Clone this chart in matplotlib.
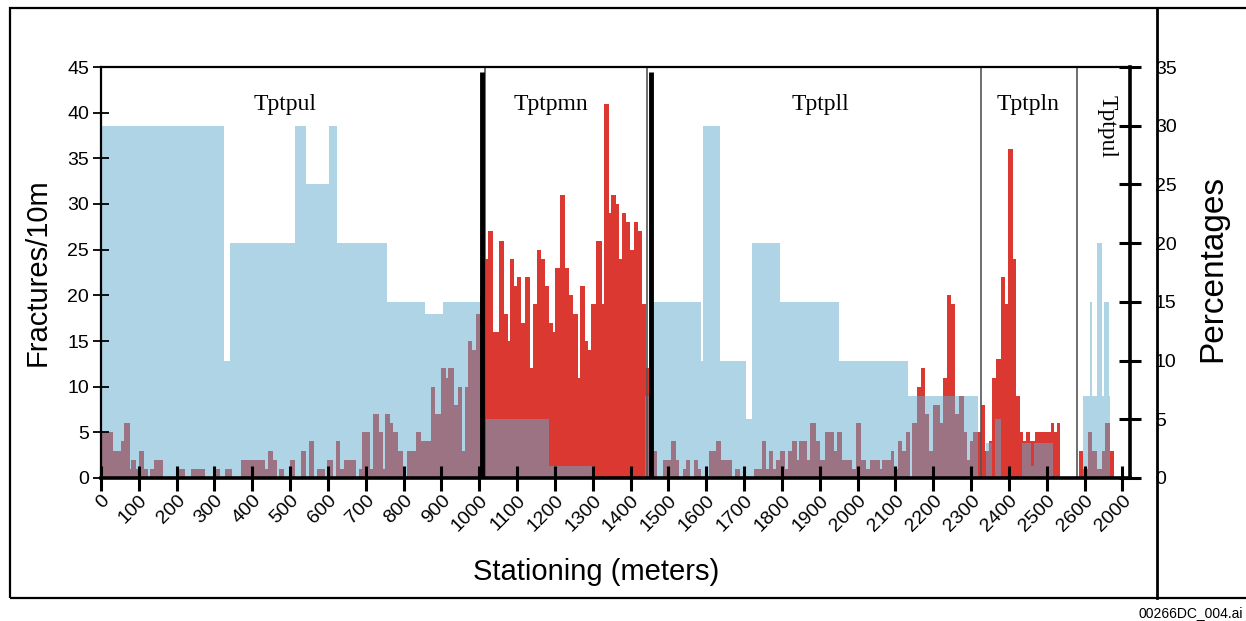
import numpy as np
import matplotlib
matplotlib.use("Agg")
import matplotlib.pyplot as plt
from matplotlib.lines import Line2D
from matplotlib.patches import Rectangle

# ---------------------------------------------------------------------------
# Fracture counts per interval (stationing in metres, counts per 10 m)
# ---------------------------------------------------------------------------
red_edges = [
    0, 32, 54, 62, 76, 80, 93, 100, 113, 123, 129, 139, 165, 204, 223, 239,
    274, 301, 314, 329, 345, 371, 433, 442, 455, 466, 471, 484, 499, 512, 528,
    543, 550, 563, 572, 593, 598, 612, 621, 632, 643, 674, 683, 691, 711, 720,
    734, 746, 752, 764, 772, 786, 799, 810, 832, 845, 872, 883, 900, 912, 918,
    933, 943, 955, 962, 971, 982, 990, 1001, 1011,
    1023, 1036, 1052, 1064, 1076, 1082, 1093, 1100, 1111, 1122, 1135, 1142,
    1152, 1164, 1173, 1184, 1195, 1201, 1212, 1226, 1237, 1248, 1261, 1267,
    1279, 1287, 1296, 1308, 1323, 1330, 1342, 1349, 1361, 1369, 1377, 1387,
    1398, 1408, 1420, 1430, 1440, 1451,
    1457, 1470, 1485, 1508, 1520, 1529, 1538, 1547, 1558, 1567, 1577, 1587,
    1607, 1626, 1640, 1668, 1675, 1689, 1726, 1746, 1758, 1765, 1777, 1785,
    1796, 1809, 1816, 1827, 1840, 1846, 1867, 1875, 1889, 1900, 1915, 1937,
    1945, 1960, 1986, 1997, 2010, 2021, 2034, 2059, 2065, 2087, 2096, 2107,
    2118, 2127, 2138, 2145, 2156, 2167, 2177, 2189, 2198, 2218, 2227, 2236,
    2246, 2257, 2268, 2280, 2290, 2297, 2306, 2326,
    2337, 2346, 2355, 2366, 2379, 2390, 2397, 2410, 2419, 2430, 2436, 2445,
    2456, 2470, 2510, 2520, 2526, 2536, 2584,
    2595, 2608, 2620, 2632, 2646, 2655, 2666, 2679, 2720,
]
red_counts = [
    5, 3, 4, 6, 1, 2, 1, 3, 1, 0, 1, 2, 0, 1, 0,
    1, 0, 1, 0, 1, 0, 2, 1, 3, 2, 0, 1, 0, 2, 0,
    3, 0, 4, 0, 1, 0, 2, 0, 4, 1, 2, 0, 1, 5, 1,
    7, 5, 1, 7, 6, 5, 3, 0, 3, 5, 4, 10, 7, 12, 11,
    12, 8, 10, 3, 10, 15, 14, 18, 20,
    24, 27, 16, 26, 18, 15, 24, 21, 22, 17, 22, 12,
    19, 25, 24, 21, 17, 16, 23, 31, 23, 20, 18, 11,
    21, 15, 14, 19, 26, 19, 41, 29, 31, 30, 24, 29,
    28, 25, 28, 27, 19, 12,
    3, 3, 0, 2, 4, 2, 0, 1, 2, 0, 2, 1,
    0, 3, 4, 2, 0, 1, 0, 1, 4, 1, 3, 1,
    2, 3, 1, 3, 4, 2, 4, 2, 6, 4, 2, 5,
    3, 5, 2, 1, 6, 2, 1, 2, 1, 2, 3, 1,
    4, 3, 5, 0, 6, 10, 12, 7, 3, 8, 6, 11,
    20, 19, 7, 9, 5, 2, 4, 5,
    8, 3, 4, 11, 13, 22, 19, 36, 24, 9, 5, 4,
    5, 4, 5, 6, 5, 6, 0,
    3, 1, 5, 3, 1, 3, 6, 3, 0,
]

# Percentage of the stationing interval (right-hand axis)
pct_edges = [
    0, 326, 340, 512, 541, 602, 624, 756, 857, 903, 1003, 1185, 1302, 1437,
    1452, 1585, 1592, 1635, 1706, 1720, 1795, 1952, 2133, 2317, 2339, 2355,
    2362, 2379, 2434, 2459, 2466, 2516, 2595, 2613, 2620, 2632, 2646, 2652,
    2664, 2668, 2720,
]
pct_values = [
    30, 10, 20, 30, 25, 30, 20, 15, 14, 15, 5, 1, 0,
    7, 15, 10, 30, 10, 5, 20, 15, 10, 7, 0, 3,
    0, 5, 0, 3, 1, 3, 0, 7, 15, 7, 20, 7,
    15, 7, 0,
]

# Lithostratigraphic units and contacts
unit_names = ["Tptpul", "Tptpmn", "Tptpll", "Tptpln"]
unit_label_x = [487, 1188, 1902, 2451]
upper_unit_name = "Tptpul"
upper_unit_x = 2660
heavy_contacts = [1007, 1455]
light_contacts = [1016, 1443, 2326, 2579]

x_ticks = list(range(0, 2800, 100))
x_tick_labels = [str(v) for v in range(0, 2700, 100)] + ["2000"]

LEFT_MAX = 45
RIGHT_MAX = 35

BLUE = "#aed4e6"
RED = "#dc3832"
MAUVE = "#9c7382"

# ---------------------------------------------------------------------------
red_edges = np.asarray(red_edges, float)
red_counts = np.asarray(red_counts, float)
pct_edges = np.asarray(pct_edges, float)
pct_values = np.asarray(pct_values, float)
pct_on_left = pct_values * LEFT_MAX / RIGHT_MAX

# overlap of the two step series on a merged grid
all_edges = np.union1d(red_edges, pct_edges)
mids = 0.5 * (all_edges[:-1] + all_edges[1:])
r_mid = red_counts[np.clip(np.searchsorted(red_edges, mids) - 1, 0, len(red_counts) - 1)]
b_mid = pct_on_left[np.clip(np.searchsorted(pct_edges, mids) - 1, 0, len(pct_on_left) - 1)]
overlap = np.minimum(r_mid, b_mid)

W, H = 1246, 621
fig = plt.figure(figsize=(W / 100, H / 100), dpi=100)
fig.patch.set_facecolor("white")

ax = fig.add_axes([101 / W, 1 - 478 / H, (1130 - 101) / W, (478 - 67) / H])
ax.set_xlim(0, 2720)
ax.set_ylim(0, LEFT_MAX)

ax.stairs(pct_on_left, pct_edges, fill=True, color=BLUE, lw=0, zorder=1.0)
ax.stairs(red_counts, red_edges, fill=True, color=RED, lw=0, zorder=1.1)
ax.stairs(overlap, all_edges, fill=True, color=MAUVE, lw=0, zorder=1.2)

for xc in light_contacts:
    ax.plot([xc, xc], [0, LEFT_MAX], color="#555555", lw=1.2, zorder=1.5,
            solid_capstyle="butt")
for xc in heavy_contacts:
    ax.plot([xc, xc], [0, 44.4], color="black", lw=3.5, zorder=1.6,
            solid_capstyle="butt")

serif = ["Liberation Serif", "DejaVu Serif"]
for name, xm in zip(unit_names, unit_label_x):
    ax.text(xm, 40.9, name, ha="center", va="center", fontsize=17,
            family=serif, zorder=6)
ax.text(upper_unit_x, 38.5, upper_unit_name, ha="center", va="center",
        fontsize=17, family=serif, rotation=-90, zorder=6)

sans = ["Liberation Sans", "DejaVu Sans"]
ax.set_yticks(range(0, 50, 5))
ax.set_yticklabels([str(v) for v in range(0, 50, 5)], family=sans, fontsize=14)
ax.set_xticks(x_ticks)
ax.set_xticklabels(x_tick_labels, family=sans, fontsize=14, rotation=45,
                   ha="right", va="top", rotation_mode="anchor")
ax.tick_params(axis="y", direction="inout", length=11, width=1.3, pad=3)
ax.tick_params(axis="x", direction="inout", length=18, width=2.2, pad=1)

for side, lw in [("left", 1.6), ("bottom", 2.6), ("top", 1.6)]:
    ax.spines[side].set_linewidth(lw)
ax.spines["right"].set_visible(False)

ax2 = ax.twinx()
ax2.set_ylim(0, RIGHT_MAX)
ax2.set_yticks(range(0, 40, 5))
ax2.set_yticklabels([str(v) for v in range(0, 40, 5)], family=sans, fontsize=14)
ax2.tick_params(axis="y", direction="inout", length=16, width=2.2, pad=10)
for side in ["left", "top", "bottom"]:
    ax2.spines[side].set_visible(False)
ax2.spines["right"].set_linewidth(2.6)

fig.text(38 / W, 1 - 272 / H, "Fractures/10m", rotation=90, ha="center",
         va="center", fontsize=21, family=sans)
fig.text(596 / W, 1 - 572 / H, "Stationing (meters)", ha="center",
         va="center", fontsize=21, family=sans)
fig.text(1213 / W, 1 - 268 / H, "Percentages", rotation=90, ha="center",
         va="center", fontsize=24, family=sans)
fig.text(1243 / W, 1 - 613 / H, "00266DC_004.ai", ha="right", va="center",
         fontsize=10, family=sans)

# outer frame
fig.add_artist(Rectangle((10 / W, 1 - 598 / H), (1250 - 10) / W, (598 - 8) / H,
                         transform=fig.transFigure, fill=False,
                         edgecolor="black", lw=1.6))
fig.add_artist(Line2D([1157 / W, 1157 / W], [1 - 598 / H, 1 - 8 / H],
                      transform=fig.transFigure, color="black", lw=2.0))

fig.savefig("out.png", dpi=100)
